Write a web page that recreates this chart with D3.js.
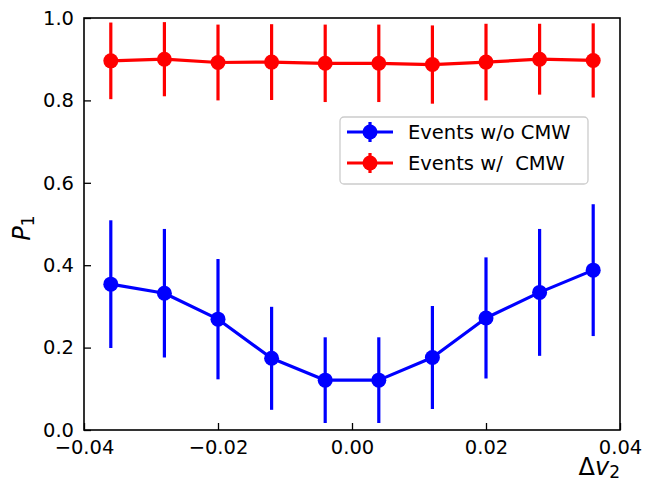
<!DOCTYPE html>
<html>
<head>
<meta charset="utf-8">
<script src="https://cdn.jsdelivr.net/npm/d3@7"></script>
<style>
  body { margin: 0; background: #fff; }
  svg { display: block; font-family: "DejaVu Sans", sans-serif; }
</style>
</head>
<body>
<svg id="chart" width="657" height="482"></svg>
<script>
const xValues = [-0.036, -0.028, -0.020, -0.012, -0.004, 0.004, 0.012, 0.020, 0.028, 0.036];
const blueValues = [0.354, 0.332, 0.269, 0.174, 0.121, 0.121, 0.176, 0.272, 0.334, 0.388];
const blueErrors = [0.155, 0.156, 0.146, 0.125, 0.104, 0.104, 0.125, 0.147, 0.154, 0.160];
const redValues = [0.896, 0.900, 0.892, 0.893, 0.890, 0.890, 0.887, 0.893, 0.900, 0.897];
const redErrors = [0.093, 0.090, 0.092, 0.092, 0.094, 0.094, 0.095, 0.093, 0.086, 0.090];
const xTicks = [-0.04, -0.02, 0.00, 0.02, 0.04];
const yTicks = [0.0, 0.2, 0.4, 0.6, 0.8, 1.0];
const seriesNames = ["Events w/o CMW", "Events w/  CMW"];
const seriesColors = ["#0000ff", "#ff0000"];

const svg = d3.select("#chart");
const L = 84, R = 620, T = 18, B = 430;
const x = d3.scaleLinear().domain([-0.04, 0.04]).range([L, R]);
const y = d3.scaleLinear().domain([0, 1]).range([B, T]);

const fmtMinus = s => s.replace("-", "\u2212");

// axes
const xAxis = d3.axisBottom(x).tickValues(xTicks).tickSize(-7).tickPadding(10)
  .tickFormat(d => fmtMinus(d3.format(".2f")(d)));
const yAxis = d3.axisLeft(y).tickValues(yTicks).tickSize(-7).tickPadding(10)
  .tickFormat(d => d3.format(".1f")(d));

const gx = svg.append("g").attr("transform", `translate(0,${B})`).call(xAxis);
const gy = svg.append("g").attr("transform", `translate(${L},0)`).call(yAxis);
[gx, gy].forEach(g => {
  g.select(".domain").remove();
  g.selectAll(".tick line").attr("stroke", "#000").attr("stroke-width", 1.3);
  g.selectAll(".tick text").attr("font-size", 19.5).attr("fill", "#000")
    .attr("font-family", "DejaVu Sans, sans-serif");
});

const series = [
  { vals: blueValues, errs: blueErrors, color: seriesColors[0] },
  { vals: redValues, errs: redErrors, color: seriesColors[1] }
];

const line = d3.line().x((d, i) => x(xValues[i])).y(d => y(d));

series.forEach(s => {
  const g = svg.append("g");
  g.selectAll("line.err").data(s.vals).join("line")
    .attr("x1", (d, i) => x(xValues[i])).attr("x2", (d, i) => x(xValues[i]))
    .attr("y1", (d, i) => y(d - s.errs[i])).attr("y2", (d, i) => y(d + s.errs[i]))
    .attr("stroke", s.color).attr("stroke-width", 3.2);
  g.append("path").datum(s.vals).attr("d", line)
    .attr("fill", "none").attr("stroke", s.color).attr("stroke-width", 3.2)
    .attr("stroke-linejoin", "round");
  g.selectAll("circle").data(s.vals).join("circle")
    .attr("cx", (d, i) => x(xValues[i])).attr("cy", d => y(d))
    .attr("r", 7.5).attr("fill", s.color);
});

// frame
svg.append("rect").attr("x", L).attr("y", T).attr("width", R - L).attr("height", B - T)
  .attr("fill", "none").attr("stroke", "#000").attr("stroke-width", 1.6);

// legend
const lg = svg.append("g");
lg.append("rect").attr("x", 340).attr("y", 117).attr("width", 248).attr("height", 67)
  .attr("rx", 4).attr("fill", "#fff").attr("fill-opacity", 0.8)
  .attr("stroke", "#cccccc").attr("stroke-width", 1.3);
seriesNames.forEach((name, i) => {
  const cy = 132 + i * 31;
  lg.append("line").attr("x1", 347).attr("x2", 393).attr("y1", cy).attr("y2", cy)
    .attr("stroke", seriesColors[i]).attr("stroke-width", 3.2);
  lg.append("line").attr("x1", 370).attr("x2", 370).attr("y1", cy - 10).attr("y2", cy + 10)
    .attr("stroke", seriesColors[i]).attr("stroke-width", 3.2);
  lg.append("circle").attr("cx", 370).attr("cy", cy).attr("r", 7.5).attr("fill", seriesColors[i]);
  lg.append("text").attr("x", 408).attr("y", cy + 7).attr("font-size", 19.5)
    .style("white-space", "pre").attr("fill", "#000").text(name);
});

// axis labels
const yl = svg.append("text").attr("transform", "translate(30,228) rotate(-90)")
  .attr("text-anchor", "middle").attr("font-size", 24).attr("fill", "#000");
yl.append("tspan").attr("font-style", "italic").text("P");
yl.append("tspan").attr("font-size", 17).attr("dy", 4).text("1");

const xl = svg.append("text").attr("x", 620).attr("y", 475)
  .attr("text-anchor", "end").attr("font-size", 24).attr("fill", "#000");
xl.append("tspan").text("\u0394");
xl.append("tspan").attr("font-style", "italic").text("v");
xl.append("tspan").attr("font-size", 17).attr("dy", 3).text("2");
</script>
</body>
</html>
